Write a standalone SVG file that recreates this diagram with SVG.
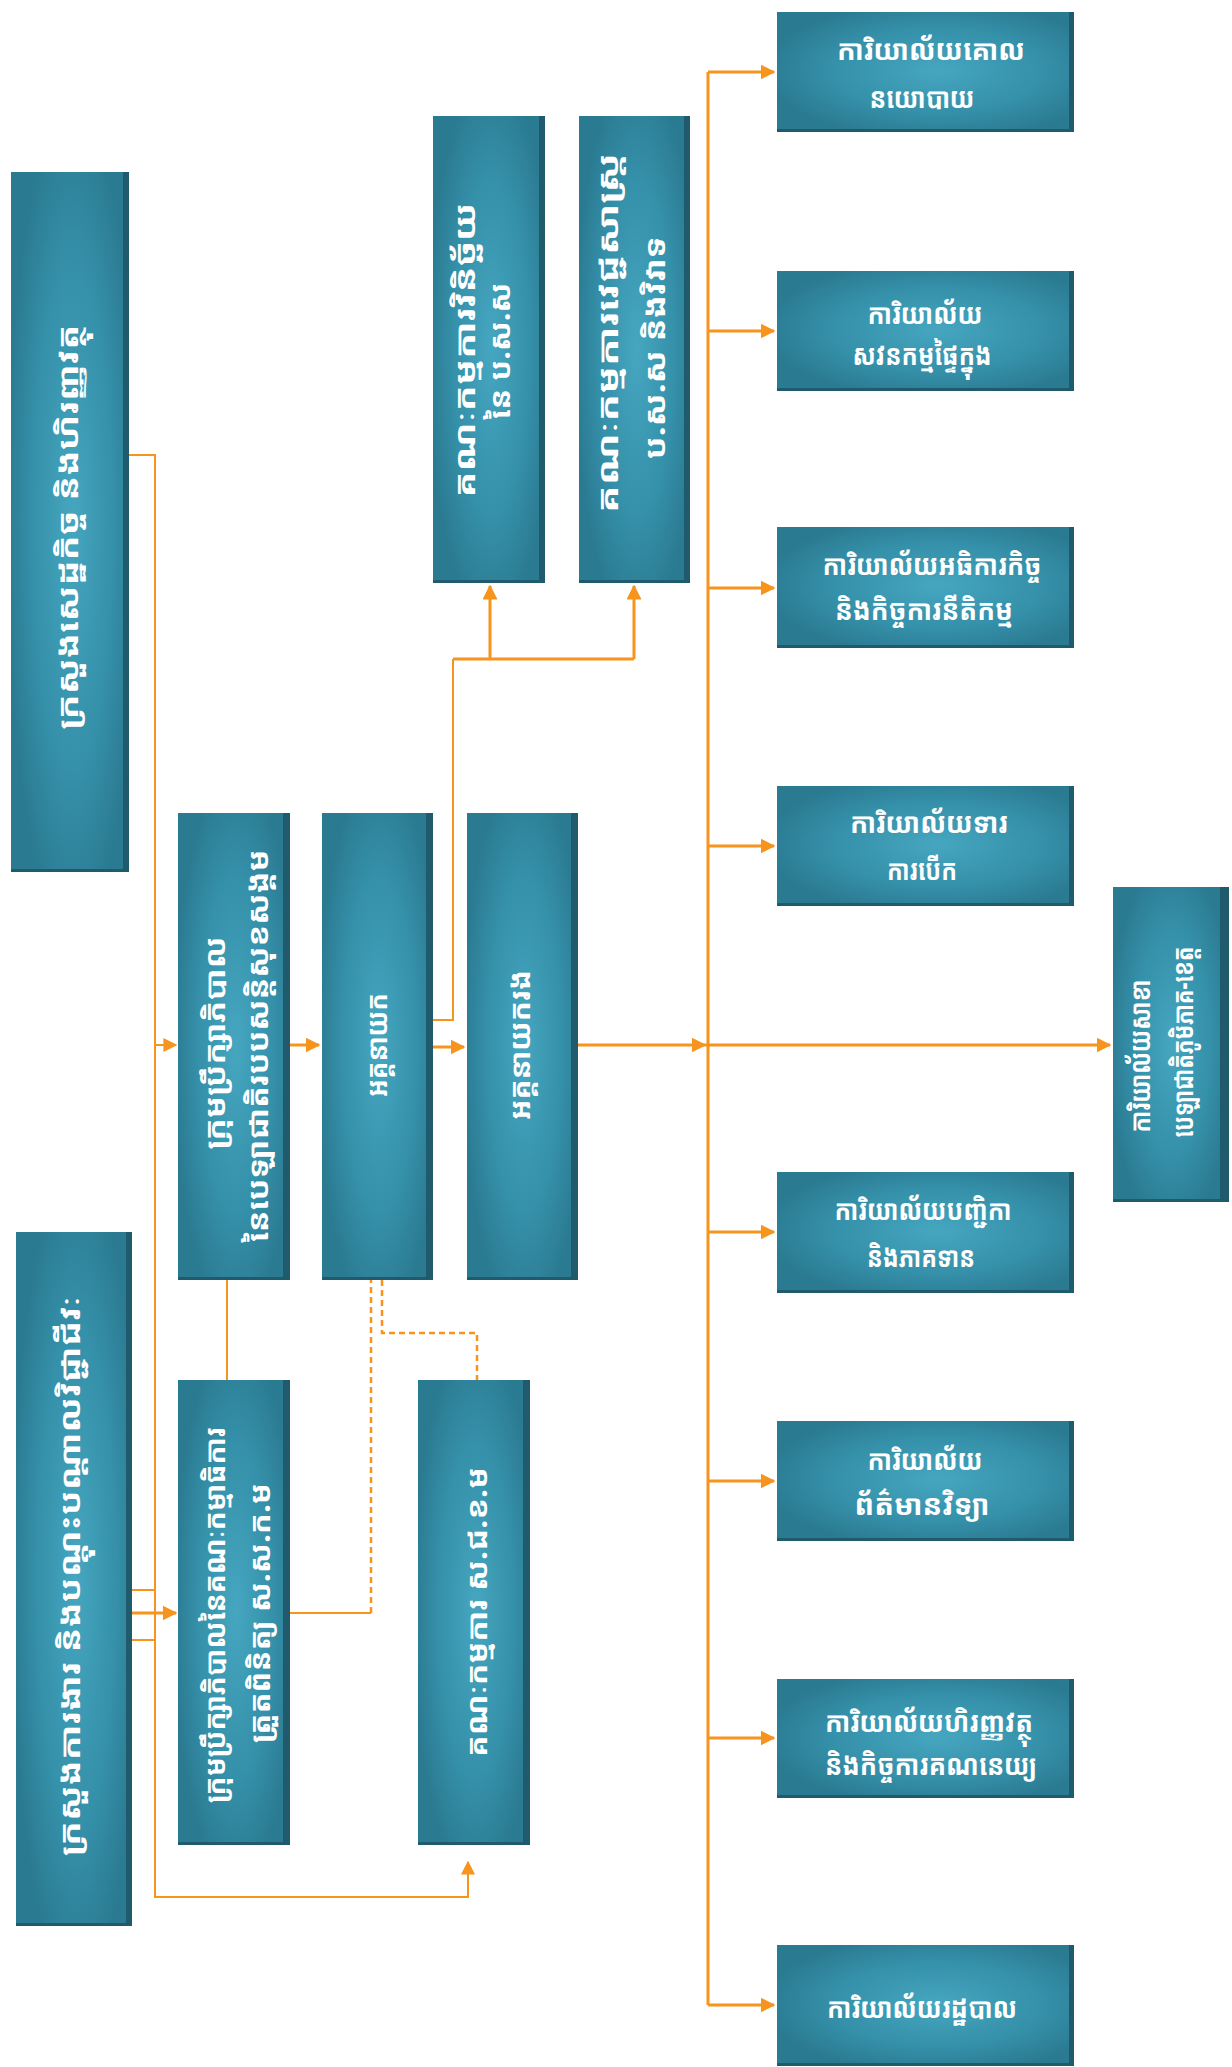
<svg xmlns="http://www.w3.org/2000/svg" width="1232" height="2067" viewBox="0 0 1232 2067">
<defs>
<radialGradient id="tg" cx="0.55" cy="0.5" r="0.6">
<stop offset="0" stop-color="#46A6C0"/>
<stop offset="0.6" stop-color="#3590A9"/>
<stop offset="1" stop-color="#2A7A91"/>
</radialGradient>
<marker id="ah" viewBox="0 0 10 10" refX="9" refY="5" markerWidth="5" markerHeight="5" orient="auto" markerUnits="strokeWidth">
<path d="M0,0 L10,5 L0,10 z" fill="#F7941D"/>
</marker>
<marker id="ah2" viewBox="0 0 10 10" refX="9" refY="5" markerWidth="7" markerHeight="7" orient="auto" markerUnits="strokeWidth">
<path d="M0,0 L10,5 L0,10 z" fill="#F7941D"/>
</marker>
</defs>
<style>
.face{fill:url(#tg);}
.edge{fill:#1F5B6C;}
.t{fill:#FFFFFF;font-family:"Noto Sans Khmer","Khmer OS","Noto Sans","DejaVu Sans",sans-serif;font-weight:bold;font-size:28px;text-anchor:middle;}
.c{fill:none;stroke:#F7941D;stroke-width:3;}
.thin{fill:none;stroke:#F7941D;stroke-width:2;}
.dash{fill:none;stroke:#F7941D;stroke-width:2.5;stroke-dasharray:6,4;}
</style>
<rect width="1232" height="2067" fill="#FFFFFF"/>
<g id="connectors">
<path class="thin" d="M129,455 H155 V1897 H468 V1862" marker-end="url(#ah2)"/>
<path class="thin" d="M155,1045 H176" marker-end="url(#ah2)"/>
<path class="thin" d="M132,1590 H155"/>
<path class="thin" d="M132,1640 H155"/>
<path class="c" d="M132,1613 H176" marker-end="url(#ah)"/>
<path class="c" d="M290,1045 H319" marker-end="url(#ah)"/>
<path class="thin" d="M227,1280 V1380"/>
<path class="c" d="M433,1047 H464" marker-end="url(#ah)"/>
<path class="thin" d="M433,1020 H453 V659"/>
<path class="c" d="M453,659 H634"/>
<path class="c" d="M490,659 V586" marker-end="url(#ah)"/>
<path class="c" d="M634,659 V586" marker-end="url(#ah)"/>
<path class="c" d="M578,1045 H705" marker-end="url(#ah)"/>
<path class="c" d="M705,1045 H1110" marker-end="url(#ah)"/>
<path class="c" d="M708,72 V2005"/>
<path class="c" d="M708,72 H774" marker-end="url(#ah)"/>
<path class="c" d="M708,331 H774" marker-end="url(#ah)"/>
<path class="c" d="M708,588 H774" marker-end="url(#ah)"/>
<path class="c" d="M708,846 H774" marker-end="url(#ah)"/>
<path class="c" d="M708,1232 H774" marker-end="url(#ah)"/>
<path class="c" d="M708,1481 H774" marker-end="url(#ah)"/>
<path class="c" d="M708,1738 H774" marker-end="url(#ah)"/>
<path class="c" d="M708,2005 H774" marker-end="url(#ah)"/>
<path class="thin" d="M290,1613 H371"/>
<path class="dash" d="M371,1613 V1280"/>
<path class="dash" d="M382,1280 V1333 H477 V1380"/>
</g>
<g id="n_mef">
<rect class="edge" x="11" y="172" width="118" height="700"/>
<rect class="face" x="11" y="172" width="112" height="697"/>
<text class="t" transform="translate(78,527) rotate(-90)" textLength="405" lengthAdjust="spacingAndGlyphs">ក្រសួងសេដ្ឋកិច្ច និងហិរញ្ញវត្ថុ</text>
</g>
<g id="n_molvt">
<rect class="edge" x="16" y="1232" width="116" height="694"/>
<rect class="face" x="16" y="1232" width="110" height="691"/>
<text class="t" transform="translate(80,1576) rotate(-90)" textLength="560" lengthAdjust="spacingAndGlyphs">ក្រសួងការងារ និងបណ្តុះបណ្តាលវិជ្ជាជីវៈ</text>
</g>
<g id="n_board">
<rect class="edge" x="178" y="813" width="112" height="467"/>
<rect class="face" x="178" y="813" width="105" height="464"/>
<text class="t" transform="translate(225,1043) rotate(-90)" textLength="213" lengthAdjust="spacingAndGlyphs">ក្រុមប្រឹក្សាភិបាល</text>
<text class="t" transform="translate(268,1046) rotate(-90)" textLength="393" lengthAdjust="spacingAndGlyphs">នៃបេឡាជាតិរបបសន្តិសុខសង្គម</text>
</g>
<g id="n_b">
<rect class="edge" x="178" y="1380" width="112" height="465"/>
<rect class="face" x="178" y="1380" width="105" height="462"/>
<text class="t" transform="translate(225,1615) rotate(-90)" textLength="376" lengthAdjust="spacingAndGlyphs">ក្រុមប្រឹក្សាភិបាលនៃគណៈកម្មាធិការ</text>
<text class="t" transform="translate(270,1613) rotate(-90)" textLength="260" lengthAdjust="spacingAndGlyphs">ត្រួតពិនិត្យ ស.ស.ក.ម</text>
</g>
<g id="n_dg">
<rect class="edge" x="322" y="813" width="111" height="467"/>
<rect class="face" x="322" y="813" width="104" height="464"/>
<text class="t" transform="translate(387,1045) rotate(-90)" textLength="104" lengthAdjust="spacingAndGlyphs">អគ្គនាយក</text>
</g>
<g id="n_d">
<rect class="edge" x="418" y="1380" width="112" height="465"/>
<rect class="face" x="418" y="1380" width="105" height="462"/>
<text class="t" transform="translate(487,1612) rotate(-90)" textLength="290" lengthAdjust="spacingAndGlyphs">គណៈកម្មការ ស.ជ.ខ.ម</text>
</g>
<g id="n_ddg">
<rect class="edge" x="467" y="813" width="111" height="467"/>
<rect class="face" x="467" y="813" width="104" height="464"/>
<text class="t" transform="translate(530,1045) rotate(-90)" textLength="150" lengthAdjust="spacingAndGlyphs">អគ្គនាយករង</text>
</g>
<g id="n_f">
<rect class="edge" x="433" y="116" width="112" height="467"/>
<rect class="face" x="433" y="116" width="106" height="464"/>
<text class="t" transform="translate(475,350) rotate(-90)" textLength="295" lengthAdjust="spacingAndGlyphs">គណៈកម្មការវិនិច្ឆ័យ</text>
<text class="t" transform="translate(510,351) rotate(-90)" textLength="137" lengthAdjust="spacingAndGlyphs">នៃ ប.ស.ស</text>
</g>
<g id="n_g">
<rect class="edge" x="579" y="116" width="111" height="467"/>
<rect class="face" x="579" y="116" width="105" height="464"/>
<text class="t" transform="translate(618,333) rotate(-90)" textLength="360" lengthAdjust="spacingAndGlyphs">គណៈកម្មការវេជ្ជសាស្ត្រ</text>
<text class="t" transform="translate(665,348) rotate(-90)" textLength="223" lengthAdjust="spacingAndGlyphs">ប.ស.ស និងវិវាទ</text>
</g>
<g id="n_r1">
<rect class="edge" x="777" y="12" width="297" height="120"/>
<rect class="face" x="777" y="12" width="292" height="117"/>
<text class="t" x="931" y="60" textLength="188" lengthAdjust="spacingAndGlyphs">ការិយាល័យគោល</text>
<text class="t" x="922" y="108" textLength="105" lengthAdjust="spacingAndGlyphs">នយោបាយ</text>
</g>
<g id="n_r2">
<rect class="edge" x="777" y="271" width="297" height="120"/>
<rect class="face" x="777" y="271" width="292" height="117"/>
<text class="t" x="925" y="324" textLength="115" lengthAdjust="spacingAndGlyphs">ការិយាល័យ</text>
<text class="t" x="922" y="365" textLength="139" lengthAdjust="spacingAndGlyphs">សវនកម្មផ្ទៃក្នុង</text>
</g>
<g id="n_r3">
<rect class="edge" x="777" y="527" width="297" height="121"/>
<rect class="face" x="777" y="527" width="292" height="118"/>
<text class="t" x="932" y="575" textLength="219" lengthAdjust="spacingAndGlyphs">ការិយាល័យអធិការកិច្ច</text>
<text class="t" x="924" y="620" textLength="178" lengthAdjust="spacingAndGlyphs">និងកិច្ចការនីតិកម្ម</text>
</g>
<g id="n_r4">
<rect class="edge" x="777" y="786" width="297" height="120"/>
<rect class="face" x="777" y="786" width="292" height="117"/>
<text class="t" x="929" y="833" textLength="158" lengthAdjust="spacingAndGlyphs">ការិយាល័យទារ</text>
<text class="t" x="922" y="880" textLength="70" lengthAdjust="spacingAndGlyphs">ការបើក</text>
</g>
<g id="n_r5">
<rect class="edge" x="777" y="1172" width="297" height="121"/>
<rect class="face" x="777" y="1172" width="292" height="118"/>
<text class="t" x="923" y="1220" textLength="177" lengthAdjust="spacingAndGlyphs">ការិយាល័យបញ្ជិកា</text>
<text class="t" x="921" y="1267" textLength="108" lengthAdjust="spacingAndGlyphs">និងភាគទាន</text>
</g>
<g id="n_r6">
<rect class="edge" x="777" y="1421" width="297" height="120"/>
<rect class="face" x="777" y="1421" width="292" height="117"/>
<text class="t" x="925" y="1470" textLength="115" lengthAdjust="spacingAndGlyphs">ការិយាល័យ</text>
<text class="t" x="922" y="1515" textLength="135" lengthAdjust="spacingAndGlyphs">ព័ត៌មានវិទ្យា</text>
</g>
<g id="n_r7">
<rect class="edge" x="777" y="1679" width="297" height="119"/>
<rect class="face" x="777" y="1679" width="292" height="116"/>
<text class="t" x="929" y="1732" textLength="208" lengthAdjust="spacingAndGlyphs">ការិយាល័យហិរញ្ញវត្ថុ</text>
<text class="t" x="931" y="1775" textLength="212" lengthAdjust="spacingAndGlyphs">និងកិច្ចការគណនេយ្យ</text>
</g>
<g id="n_r8">
<rect class="edge" x="777" y="1945" width="297" height="121"/>
<rect class="face" x="777" y="1945" width="292" height="118"/>
<text class="t" x="922" y="2018" textLength="190" lengthAdjust="spacingAndGlyphs">ការិយាល័យរដ្ឋបាល</text>
</g>
<g id="n_r9">
<rect class="edge" x="1113" y="887" width="116" height="315"/>
<rect class="face" x="1113" y="887" width="107" height="312"/>
<text class="t" transform="translate(1150,1056) rotate(-90)" textLength="153" lengthAdjust="spacingAndGlyphs">ការិយាល័យសាខា</text>
<text class="t" transform="translate(1193,1042) rotate(-90)" textLength="191" lengthAdjust="spacingAndGlyphs">បេឡាជាតិភូមិភាគ-ខេត្ត</text>
</g>
</svg>
